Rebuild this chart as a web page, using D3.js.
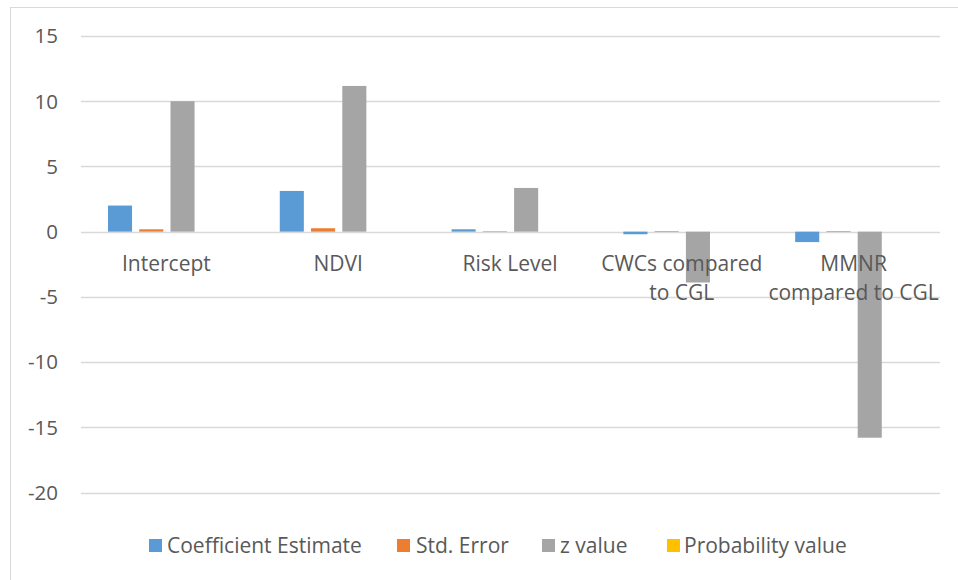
<!DOCTYPE html>
<html>
<head>
<meta charset="utf-8">
<script src="https://cdn.jsdelivr.net/npm/d3@7"></script>
<style>
  html, body { margin: 0; padding: 0; background: #fff; }
  svg { display: block; font-family: "Open Sans", "Noto Sans", sans-serif; }
</style>
</head>
<body>
<svg id="chart" width="958" height="580"></svg>
<script>
const categories = [["Intercept"], ["NDVI"], ["Risk Level"], ["CWCs compared", "to CGL"], ["MMNR", "compared to CGL"]];
const seriesNames = ["Coefficient Estimate", "Std. Error", "z value", "Probability value"];
const coefficientEstimate = [2.0, 3.12, 0.18, -0.2, -0.8];
const stdError = [0.18, 0.26, 0.04, 0.05, 0.05];
const zValue = [10.0, 11.17, 3.35, -3.9, -15.8];
const probabilityValue = [0.0, 0.0, 0.001, 0.0001, 0.0];
const seriesColors = ["#5B9BD5", "#ED7D31", "#A5A5A5", "#FFC000"];
const yTicks = [15, 10, 5, 0, -5, -10, -15, -20];

const seriesValues = [coefficientEstimate, stdError, zValue, probabilityValue];
const svg = d3.select("#chart");

// outer chart border (top and left visible)
svg.append("rect").attr("x", 10.5).attr("y", 7.5).attr("width", 960).attr("height", 600)
  .attr("fill", "none").attr("stroke", "#d9d9d9").attr("stroke-width", 1);

const plotLeft = 81, plotRight = 940, plotTop = 36, plotBottom = 492.5;
const y = d3.scaleLinear().domain([-20, 15]).range([plotBottom, plotTop]);
const catIdx = d3.range(categories.length);
const x0 = d3.scaleBand().domain(catIdx).range([plotLeft, plotRight]).paddingInner(0.314).paddingOuter(0.157);
const x1 = d3.scaleBand().domain(d3.range(seriesNames.length)).range([0, x0.bandwidth()]).paddingInner(0.23);

// gridlines
svg.append("g").selectAll("line").data(yTicks).join("line")
  .attr("x1", plotLeft).attr("x2", plotRight)
  .attr("y1", d => Math.round(y(d)) + 0.5).attr("y2", d => Math.round(y(d)) + 0.5)
  .attr("stroke", "#d9d9d9").attr("stroke-width", 1.3);

// y labels
svg.append("g").selectAll("text").data(yTicks).join("text")
  .attr("x", 58).attr("y", d => y(d)).attr("dy", "0.36em")
  .attr("text-anchor", "end").attr("fill", "#595959").attr("font-size", 20.5)
  .text(d => d);

// bars
const groups = svg.append("g").selectAll("g").data(catIdx).join("g")
  .attr("transform", i => `translate(${x0(i)},0)`);
groups.selectAll("rect").data(i => seriesValues.map((s, k) => ({k, v: s[i]}))).join("rect")
  .attr("x", d => x1(d.k)).attr("width", x1.bandwidth())
  .attr("y", d => y(Math.max(0, d.v))).attr("height", d => Math.abs(y(d.v) - y(0)))
  .attr("fill", d => seriesColors[d.k]);

// category labels
const labelG = svg.append("g");
catIdx.forEach(i => {
  const cx = x0(i) + x0.bandwidth() / 2 - 0.5;
  const t = labelG.append("text").attr("text-anchor", "middle").attr("fill", "#595959").attr("font-size", 21);
  categories[i].forEach((line, j) => {
    t.append("tspan").attr("x", cx).attr("y", 271 + j * 29).text(line);
  });
});

// legend
const legendItems = [
  {x: 149, tx: 167},
  {x: 397, tx: 416},
  {x: 542, tx: 560},
  {x: 667, tx: 684}
];
const lg = svg.append("g");
seriesNames.forEach((name, k) => {
  lg.append("rect").attr("x", legendItems[k].x).attr("y", 539).attr("width", 13).attr("height", 13).attr("fill", seriesColors[k]);
  lg.append("text").attr("x", legendItems[k].tx).attr("y", 553).attr("fill", "#595959").attr("font-size", 21).text(name);
});
</script>
</body>
</html>
